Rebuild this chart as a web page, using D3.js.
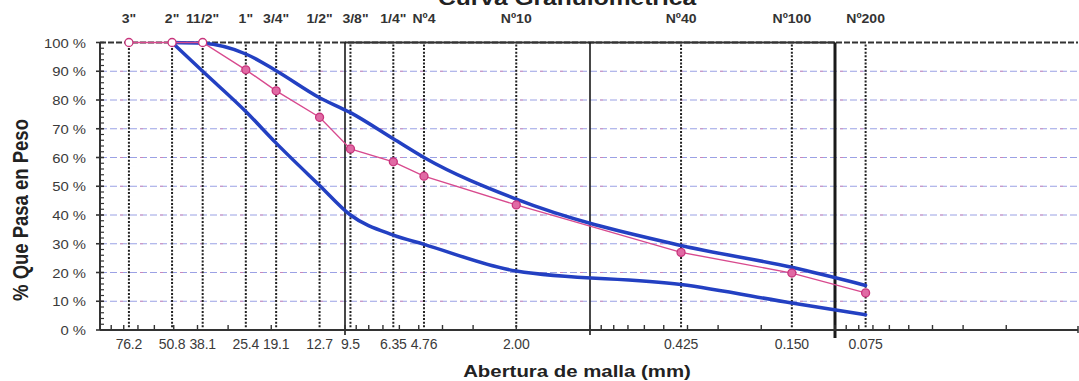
<!DOCTYPE html>
<html><head><meta charset="utf-8">
<script src="https://cdn.jsdelivr.net/npm/d3@7"></script>
<style>
html,body{margin:0;padding:0;background:#fff;}
svg{display:block;}
text{font-family:"Liberation Sans",Arial,sans-serif;}
</style></head><body>
<svg id="chart" width="1079" height="381"></svg>
<script>
// Sieve openings (mm), their labels and ASTM designations
const sieveSizes = [76.2, 50.8, 38.1, 25.4, 19.1, 12.7, 9.5, 6.35, 4.76, 2.00, 0.425, 0.150, 0.075];
const sizeLabels = ["76.2","50.8","38.1","25.4","19.1","12.7","9.5","6.35","4.76","2.00","0.425","0.150","0.075"];
const sieveNames = ['3"','2"','11/2"','1"','3/4"','1/2"','3/8"','1/4"','Nº4','Nº10','Nº40','Nº100','Nº200'];

// Sample: % passing at each sieve
const samplePassing = [100, 100, 100, 90.5, 83.2, 74, 63, 58.5, 53.5, 43.5, 27, 19.8, 12.9];

// Specification envelope
const limitSizes = [50.8, 38.1, 25.4, 19.1, 12.7, 9.5, 6.35, 4.76, 2.00, 0.425, 0.150, 0.075];
const upperLimit = [100, 99.7, 96, 90.2, 80.8, 75.6, 66.5, 60, 45.5, 29.4, 21.8, 15.5];
const lowerLimit = [100, 90, 76, 65, 50.3, 40, 33, 29.8, 20.5, 15.8, 9.4, 5.3];

const yTicks = [0, 10, 20, 30, 40, 50, 60, 70, 80, 90, 100];
const decadeLines = [10, 1, 0.1];

const svg = d3.select("#chart");
const plotLeft = 100, plotRight = 1078, plotTop = 42.5, plotBottom = 330;

const x = d3.scaleLog().domain([100, 0.01]).range([plotLeft, 1080]);
const y = d3.scaleLinear().domain([0, 100]).range([plotBottom, plotTop]);

const BLUE = "#2340c2", PINK = "#d84a8e";

// horizontal gridlines (mixed blue/pink dashes)
const grid = svg.append("g");
yTicks.filter(v => v > 0 && v < 100).forEach(v => {
  grid.append("line").attr("x1", plotLeft).attr("x2", plotRight).attr("y1", y(v)).attr("y2", y(v))
    .attr("stroke", "#6670d8").attr("stroke-width", 1).attr("stroke-dasharray", "7,3").attr("opacity", 0.65);
  grid.append("line").attr("x1", plotLeft).attr("x2", plotRight).attr("y1", y(v)).attr("y2", y(v))
    .attr("stroke", "#e07aa8").attr("stroke-width", 1).attr("stroke-dasharray", "3,17").attr("opacity", 0.65);
});

// top line at 100 %
svg.append("line").attr("x1", plotLeft).attr("x2", plotRight).attr("y1", y(100)).attr("y2", y(100))
  .attr("stroke", "#333").attr("stroke-width", 1.8).attr("stroke-dasharray", "6,2");
svg.append("line").attr("x1", x(10)).attr("x2", x(0.1)).attr("y1", y(100)).attr("y2", y(100))
  .attr("stroke", "#333").attr("stroke-width", 1.8);

// dotted sieve verticals
svg.append("g").selectAll("line").data(sieveSizes).join("line")
  .attr("x1", d => x(d)).attr("x2", d => x(d)).attr("y1", y(100) + 2).attr("y2", y(0))
  .attr("stroke", "#222").attr("stroke-width", 2).attr("stroke-dasharray", "2,1.6");

// solid decade verticals
svg.append("g").selectAll("line").data(decadeLines).join("line")
  .attr("x1", d => x(d)).attr("x2", d => x(d)).attr("y1", y(100)).attr("y2", d => y(0) + (d < 1 ? 8 : 5))
  .attr("stroke", "#1a1a1a").attr("stroke-width", d => d < 1 ? 3 : 1.6);

// axes
svg.append("line").attr("x1", plotLeft).attr("x2", plotRight).attr("y1", y(0)).attr("y2", y(0))
  .attr("stroke", "#333").attr("stroke-width", 2);
svg.append("line").attr("x1", plotLeft).attr("x2", plotLeft).attr("y1", y(100)).attr("y2", y(0))
  .attr("stroke", "#333").attr("stroke-width", 2);
svg.append("line").attr("x1", plotRight).attr("x2", plotRight).attr("y1", y(0) - 4).attr("y2", y(0) + 3)
  .attr("stroke", "#333").attr("stroke-width", 1.5);

// log minor ticks on x axis
const minor = x.ticks().filter(v => x(v) > plotLeft + 2 && x(v) < plotRight - 2);
svg.append("g").selectAll("line").data(minor).join("line")
  .attr("x1", d => x(d)).attr("x2", d => x(d)).attr("y1", y(0) - 5).attr("y2", y(0))
  .attr("stroke", "#333").attr("stroke-width", 1.4);

// y ticks: major every 10 %, minor every 2 %
svg.append("g").selectAll("line").data(yTicks).join("line")
  .attr("x1", plotLeft - 4).attr("x2", plotLeft + 4).attr("y1", d => y(d)).attr("y2", d => y(d))
  .attr("stroke", "#333").attr("stroke-width", 1.6);
svg.append("g").selectAll("line").data(d3.range(2, 100, 2).filter(v => v % 10)).join("line")
  .attr("x1", plotLeft).attr("x2", plotLeft + 4).attr("y1", d => y(d)).attr("y2", d => y(d))
  .attr("stroke", "#333").attr("stroke-width", 1.2);

// y tick labels
svg.append("g").selectAll("text").data(yTicks).join("text")
  .attr("transform", d => `translate(86,${y(d) + 5}) scale(1.1,1)`)
  .attr("text-anchor", "end").attr("font-size", 13.5).attr("fill", "#3a3a3a")
  .text(d => d + " %");

// x tick labels (sieve openings)
svg.append("g").selectAll("text").data(sieveSizes).join("text")
  .attr("transform", d => `translate(${x(d)},349)`)
  .attr("text-anchor", "middle").attr("font-size", 14).attr("fill", "#3a3a3a")
  .attr("letter-spacing", -0.2)
  .text((d, i) => sizeLabels[i]);

// sieve designations on top
svg.append("g").selectAll("text").data(sieveSizes).join("text")
  .attr("transform", (d, i) => `translate(${x(d) + (i === 6 ? 5 : 0)},23) scale(1.08,1)`)
  .attr("text-anchor", "middle").attr("font-size", 13).attr("font-weight", "bold").attr("fill", "#333")
  .text((d, i) => sieveNames[i]);

// titles
svg.append("text").attr("transform", "translate(567,5) scale(1.2,1)")
  .attr("text-anchor", "middle").attr("font-size", 20.5).attr("font-weight", "bold").attr("fill", "#222")
  .text("Curva Granulométrica");
svg.append("text").attr("transform", "translate(577,377) scale(1.2,1)")
  .attr("text-anchor", "middle").attr("font-size", 17).attr("font-weight", "bold").attr("fill", "#222")
  .text("Abertura de malla (mm)");
svg.append("text").attr("transform", "translate(28,210) scale(1.15,1) rotate(-90)")
  .attr("text-anchor", "middle").attr("font-size", 18.5).attr("font-weight", "bold").attr("fill", "#222")
  .text("% Que Pasa en Peso");

// specification envelope
const limitLine = d3.line().x(d => x(d[0])).y(d => y(d[1])).curve(d3.curveMonotoneX);
[upperLimit, lowerLimit].forEach(vals => {
  svg.append("path").datum(limitSizes.map((s, i) => [s, vals[i]]))
    .attr("d", limitLine).attr("fill", "none").attr("stroke", BLUE)
    .attr("stroke-width", 3.5).attr("stroke-linecap", "round");
});

// sample curve
const samplePts = sieveSizes.map((s, i) => [s, samplePassing[i]]);
svg.append("path").datum(samplePts)
  .attr("d", d3.line().x(d => x(d[0])).y(d => y(d[1])))
  .attr("fill", "none").attr("stroke", PINK).attr("stroke-width", 1.4);
svg.append("g").selectAll("circle").data(samplePts).join("circle")
  .attr("cx", d => x(d[0])).attr("cy", d => y(d[1])).attr("r", 4)
  .attr("fill", (d, i) => i < 3 ? "#fff" : "#e06aa4").attr("stroke", "#c8347c").attr("stroke-width", 1.3);
</script>
</body></html>
